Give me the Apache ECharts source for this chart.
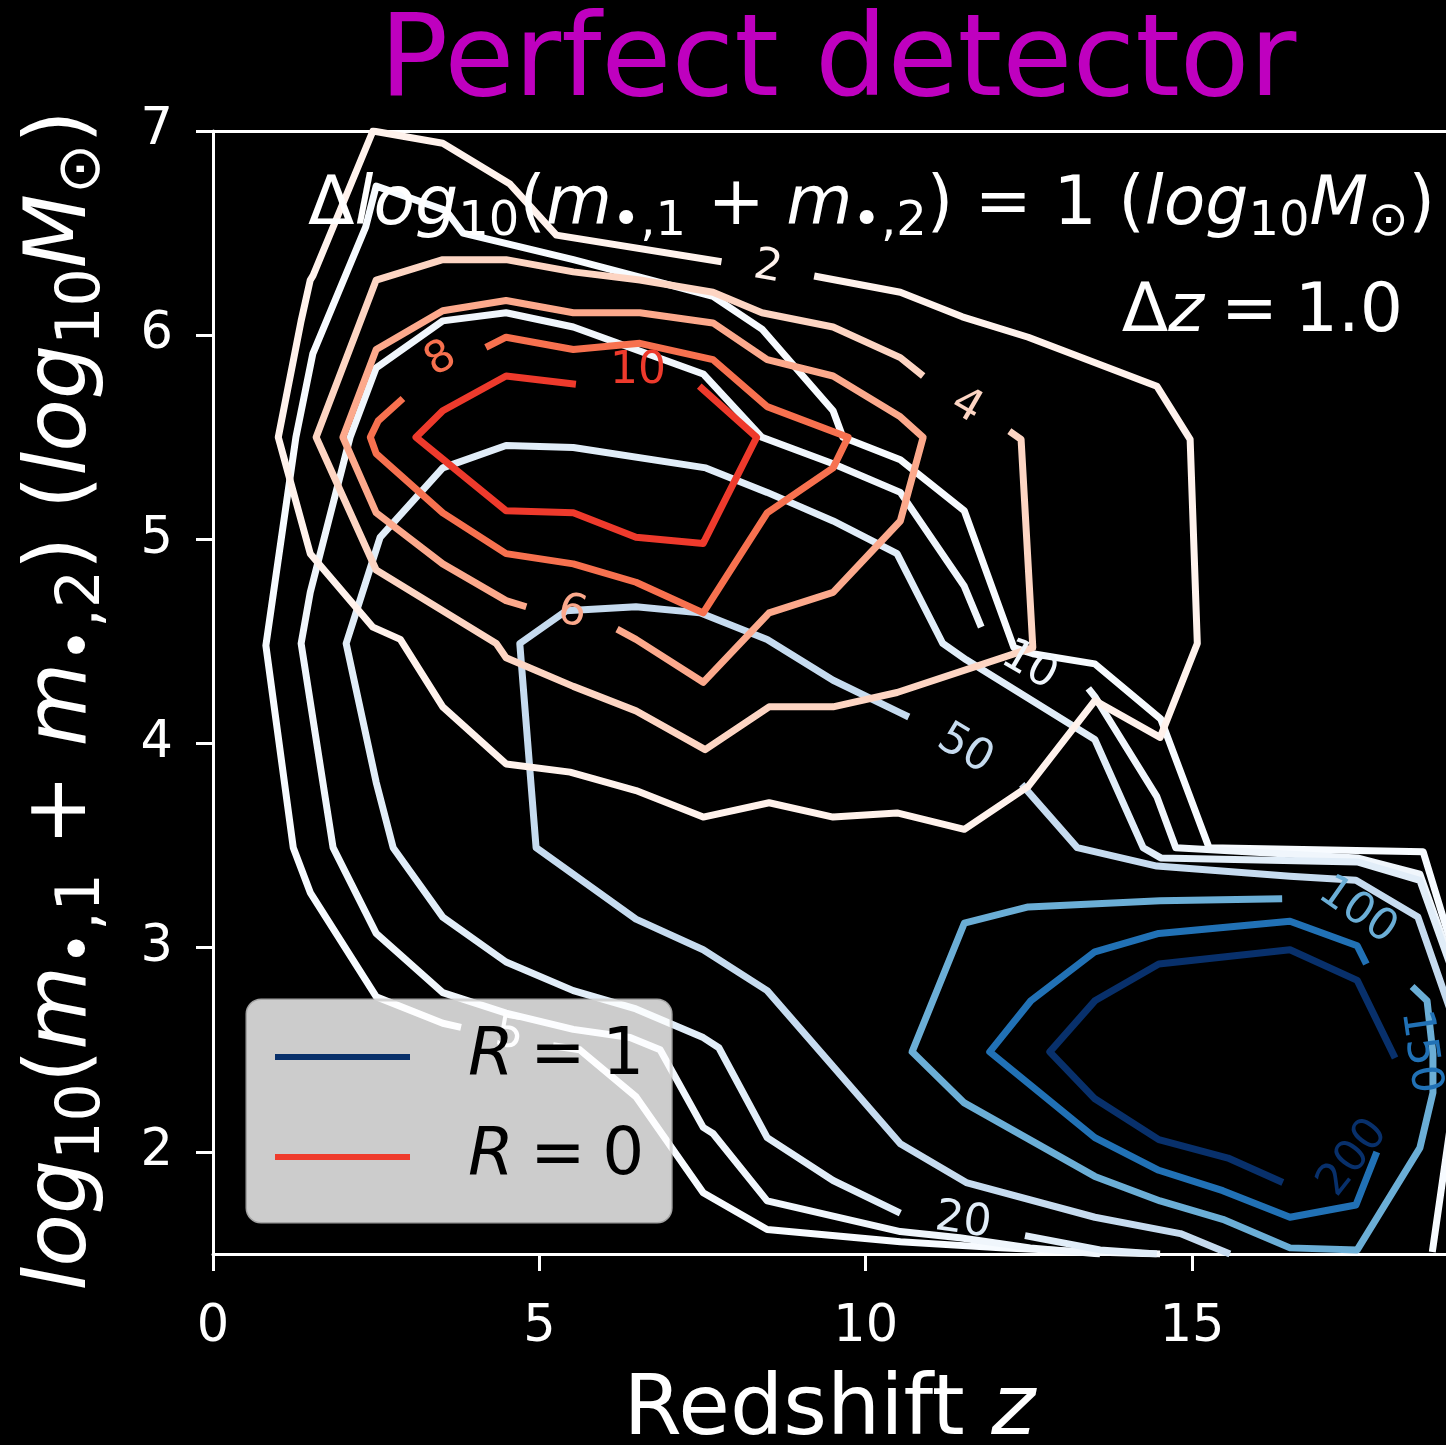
<!DOCTYPE html>
<html>
<head>
<meta charset="utf-8">
<script src="https://cdn.jsdelivr.net/npm/echarts@6.0.0/dist/echarts.min.js"></script>
<style>
html,body{margin:0;padding:0;background:#000;overflow:hidden;}
#chart{width:1446px;height:1445px;}
</style>
</head>
<body>
<div id="chart"></div>
<script>
// ---------------- axis ticks ----------------
const xTickValues = [0, 5, 10, 15];
const yTickValues = [2, 3, 4, 5, 6, 7];

// ---------------- contour levels ----------------
const levelsR0 = [2, 4, 6, 8, 10];
const levelsR1 = [5, 10, 20, 50, 100, 150, 200];

// ---------------- R = 0 contour paths: [redshift z, log10 mass] ----------------
const r0Level2 = [[[9.21,6.29],[10.53,6.21],[11.48,6.09],[12.49,5.99],[14.46,5.75],[14.97,5.49],[15.08,4.49],[14.51,4.03],[13.51,4.21],[12.49,3.79],[11.51,3.58],[10.48,3.66],[9.50,3.64],[8.52,3.71],[7.51,3.64],[6.48,3.77],[5.47,3.86],[4.49,3.90],[3.52,4.18],[2.87,4.51],[2.45,4.57],[1.49,4.93],[1.00,5.50],[1.35,6.07],[1.49,6.27],[1.53,6.29],[2.45,7.00],[3.52,6.94],[4.55,6.74],[5.26,6.49],[7.79,6.36]]];
const r0Level4 = [[[12.20,5.53],[12.38,5.49],[12.56,4.47],[10.48,4.25],[9.50,4.18],[8.52,4.18],[7.54,3.97],[6.48,4.16],[5.52,4.28],[4.49,4.42],[4.34,4.49],[2.50,4.85],[1.58,5.50],[2.50,6.27],[3.52,6.37],[4.49,6.37],[5.52,6.31],[6.54,6.27],[7.66,6.21],[8.41,6.11],[9.50,6.04],[10.53,5.89],[10.88,5.80]]];
const r0Level6 = [[[4.80,4.67],[4.49,4.70],[3.52,4.88],[2.50,5.13],[1.99,5.50],[2.50,5.93],[3.52,6.12],[4.49,6.17],[5.52,6.11],[6.54,6.11],[7.66,6.06],[8.49,5.88],[9.50,5.80],[10.53,5.60],[10.88,5.50],[10.53,5.09],[9.50,4.74],[8.52,4.64],[7.51,4.30],[6.48,4.51],[6.19,4.56]]];
const r0Level8 = [[[4.18,5.94],[4.49,5.99],[5.52,5.93],[6.54,5.96],[7.66,5.88],[8.49,5.65],[9.73,5.50],[9.50,5.35],[8.49,5.13],[7.51,4.64],[6.48,4.79],[5.52,4.88],[4.49,4.93],[3.52,5.13],[2.50,5.42],[2.41,5.50],[2.53,5.58],[2.91,5.69]]];
const r0Level10 = [[[7.45,5.75],[8.33,5.50],[7.51,4.98],[6.48,5.01],[5.52,5.13],[4.49,5.14],[3.11,5.50],[3.52,5.63],[4.49,5.80],[5.56,5.76]]];

// ---------------- R = 1 contour paths ----------------
const r1Level5 = [
  [[14.51,1.50],[13.48,1.51],[12.06,1.53],[10.53,1.56],[8.49,1.62],[7.51,1.80],[6.48,2.27],[5.62,2.50],[5.21,2.52]],
  [[3.80,2.61],[3.52,2.63],[2.50,2.76],[1.49,3.27],[1.23,3.49],[0.81,4.48],[1.27,5.50],[1.53,5.91],[2.34,6.53],[2.50,6.73],[3.57,6.61],[3.83,6.50],[5.52,6.37],[7.66,6.19],[8.41,6.03],[9.50,5.63],[9.65,5.50],[10.53,5.39],[11.51,5.14],[12.27,4.47],[12.56,4.44],[13.51,4.39],[14.52,4.12],[15.26,3.49],[18.54,3.47],[18.95,3.04],[19.20,2.55],[18.95,2.11],[18.68,1.51]]
];
const r1Level10 = [
  [[13.59,1.50],[12.52,1.53],[11.44,1.58],[10.53,1.61],[8.49,1.76],[7.66,2.09],[7.51,2.12],[6.85,2.50],[6.39,2.56],[5.52,2.60],[4.49,2.68],[3.52,2.78],[2.50,3.07],[1.84,3.49],[1.35,4.49],[1.49,4.74],[2.10,5.50],[2.50,5.84],[3.52,6.07],[4.49,6.11],[5.52,6.04],[7.51,5.81],[8.41,5.50],[9.50,5.37],[10.53,5.23],[11.51,4.77],[11.77,4.57]],
  [[13.41,4.27],[13.51,4.23],[14.46,3.74],[14.75,3.49],[17.53,3.44],[18.49,3.36],[18.95,2.95]]
];
const r1Level20 = [
  [[14.46,1.50],[13.59,1.52],[12.44,1.59]],
  [[10.53,1.70],[9.50,1.86],[8.49,2.07],[7.75,2.51],[7.51,2.56],[6.48,2.70],[5.52,2.79],[4.49,2.93],[3.52,3.15],[2.76,3.49],[2.50,3.81],[2.04,4.49],[2.50,4.95],[2.56,5.01],[3.52,5.35],[4.49,5.46],[5.52,5.45],[7.55,5.35],[8.49,5.23],[9.50,5.09],[10.48,4.93],[11.18,4.49],[11.54,4.41],[13.51,4.02],[14.25,3.49],[14.52,3.44],[17.53,3.42],[18.49,3.33],[18.95,2.92]]
];
const r1Level50 = [
  [[15.58,1.50],[14.82,1.60],[13.51,1.68],[11.54,1.85],[10.53,2.04],[8.49,2.79],[7.51,2.99],[6.48,3.14],[4.95,3.49],[4.70,4.49],[5.41,4.65],[6.48,4.67],[7.46,4.64],[8.49,4.51],[9.50,4.31],[10.53,4.15],[10.66,4.13]],
  [[12.39,3.80],[13.24,3.49],[14.46,3.40],[16.50,3.35],[17.51,3.33],[18.46,3.15],[18.95,2.70]]
];
const r1Level100 = [[[18.37,2.81],[18.60,2.74],[18.69,2.48],[18.69,2.29],[18.49,2.02],[17.53,1.52],[16.50,1.53],[15.47,1.67],[14.51,1.76],[13.51,1.88],[11.51,2.24],[10.71,2.49],[11.51,3.12],[12.49,3.20],[14.51,3.23],[16.38,3.24]]];
const r1Level150 = [[[17.83,2.00],[17.51,1.74],[16.50,1.68],[15.47,1.81],[14.49,1.91],[13.51,2.07],[11.90,2.49],[12.53,2.74],[13.51,2.98],[14.49,3.07],[16.50,3.13],[17.53,3.01],[17.67,2.92]]];
const r1Level200 = [[[18.11,2.46],[17.53,2.84],[16.50,2.99],[14.49,2.92],[13.51,2.74],[12.82,2.49],[13.51,2.26],[14.49,2.06],[15.55,1.97],[16.39,1.85]]];

// ---------------- inline contour labels (level, position in data units) ----------------
const labelsR0 = [{level:2, at:[8.50,6.33]}, {level:4, at:[11.54,5.65]}, {level:6, at:[5.50,4.64]}, {level:8, at:[3.49,5.88]}, {level:10, at:[6.51,5.82]}];
const labelsR1 = [{level:5, at:[4.54,2.57]}, {level:10, at:[12.50,4.38]}, {level:20, at:[11.49,1.66]}, {level:50, at:[11.52,3.97]}, {level:100, at:[17.53,3.18]}, {level:150, at:[18.49,2.49]}, {level:200, at:[17.47,1.97]}];

// ---------------- styles ----------------
const FONT = "'DejaVu Sans', sans-serif";
const colorR0 = {2:'#fff2ec', 4:'#fdd5c3', 6:'#fca98c', 8:'#f7714f', 10:'#ee3a2c'};
const colorR1 = {5:'#f7fbff', 10:'#f0f6fc', 20:'#e1edf8', 50:'#c6dbef', 100:'#6baed6', 150:'#2171b5', 200:'#08306b'};
const angleR0 = {2:-10, 4:-30, 6:-15, 8:30, 10:0};
const angleR1 = {5:-10, 10:-30, 20:-8, 50:-31, 100:-35, 150:-82, 200:52};
const pathsR0 = {2:r0Level2, 4:r0Level4, 6:r0Level6, 8:r0Level8, 10:r0Level10};
const pathsR1 = {5:r1Level5, 10:r1Level10, 20:r1Level20, 50:r1Level50, 100:r1Level100, 150:r1Level150, 200:r1Level200};
const SP = '\u2005'; // math-style narrow space

function mathRich(B, color) {
  return {
    n: {fontFamily: FONT, fontSize: B, color: color, fill: color},
    i: {fontFamily: FONT, fontSize: B, fontStyle: 'italic', color: color, fill: color},
    s: {fontFamily: FONT, fontSize: Math.round(B * 0.7), color: color, fill: color, padding: [Math.round(B * 0.48), 0, 0, 0]},
    e: {fontFamily: FONT, fontSize: B, color: color, fill: color, padding: [0, 16, 0, 0]}
  };
}

const series = [];
function addContours(paths, color) {
  paths.forEach(seg => series.push({
    type: 'line', data: seg, symbol: 'none', showSymbol: false, silent: true,
    animation: false, clip: true, z: 2, legendHoverLink: false,
    lineStyle: {color: color, width: 7, join: 'round', cap: 'butt'}
  }));
}
levelsR1.forEach(l => addContours(pathsR1[l], colorR1[l]));
levelsR0.forEach(l => addContours(pathsR0[l], colorR0[l]));

function labelSeries(list, colors, angles) {
  return {
    type: 'scatter', silent: true, animation: false, symbolSize: 1, z: 3,
    itemStyle: {color: 'rgba(0,0,0,0)'},
    data: list.map(l => ({
      value: l.at,
      label: {show: true, position: 'inside', formatter: String(l.level), rotate: angles[l.level],
              color: colors[l.level], fontSize: 44, fontFamily: FONT,
              textBorderWidth: 0, textBorderColor: 'transparent', textShadowBlur: 0, opacity: 1}
    }))
  };
}
series.push(labelSeries(labelsR1, colorR1, angleR1));
series.push(labelSeries(labelsR0, colorR0, angleR0));

// legend entries
series.push({name: 'R = 1', type: 'line', data: [], itemStyle: {color: '#08306b'}, lineStyle: {color: '#08306b'}});
series.push({name: 'R = 0', type: 'line', data: [], itemStyle: {color: '#ef3b2c'}, lineStyle: {color: '#ef3b2c'}});

const yName = '{i|log}{s|10}{n|(}{i|m}{s|•,1}{n| + }{i|m}{s|•,2}{n|) (}{i|log}{s|10}{i|M}{s|⊙}{e|)}';
const annot1 = '{n|Δ}{i|log}{s|10}{n|(}{i|m}{s|•,1}{n| + }{i|m}{s|•,2}{n|) = 1 (}{i|log}{s|10}{i|M}{s|⊙}{n|)}';
const annot2 = '{n|Δ}{i|z}{n|' + SP + '=' + SP + '1.0}';

const chart = echarts.init(document.getElementById('chart'), null, {renderer: 'canvas', width: 1446, height: 1445});
chart.setOption({
  backgroundColor: '#000',
  animation: false,
  title: {
    text: 'Perfect detector', left: 838, top: 8, textAlign: 'center', padding: 0,
    textStyle: {color: '#bf00bf', fontSize: 114, fontFamily: FONT, fontWeight: 'normal'}
  },
  grid: {left: 213, width: 1233, top: 131, height: 1123, containLabel: false, outerBoundsMode: 'none'},
  xAxis: [{
    type: 'value', min: 0, max: 18.89, position: 'bottom',
    name: '{n|Redshift }{i|z}', nameLocation: 'middle', nameGap: 116,
    nameTextStyle: {rich: mathRich(84, '#fff')},
    axisLine: {show: true, onZero: false, lineStyle: {color: '#fff', width: 3}},
    axisTick: {show: true, inside: false, length: 17, lineStyle: {color: '#fff', width: 3}, customValues: xTickValues},
    axisLabel: {show: true, color: '#fff', fontSize: 51, fontFamily: FONT, margin: 48, customValues: xTickValues},
    splitLine: {show: false}
  }, {
    type: 'value', min: 0, max: 18.89, position: 'top',
    axisLine: {show: true, onZero: false, lineStyle: {color: '#fff', width: 3}},
    axisTick: {show: false}, axisLabel: {show: false}, splitLine: {show: false}
  }],
  yAxis: {
    type: 'value', min: 1.5, max: 7, position: 'left',
    name: yName, nameLocation: 'middle', nameRotate: 90, nameGap: 100,
    nameTextStyle: {rich: mathRich(86, '#fff')},
    axisLine: {show: true, onZero: false, lineStyle: {color: '#fff', width: 3}},
    axisTick: {show: true, inside: false, length: 17, lineStyle: {color: '#fff', width: 3}, customValues: yTickValues},
    axisLabel: {show: true, color: '#fff', fontSize: 51, fontFamily: FONT, margin: 40, customValues: yTickValues},
    splitLine: {show: false}
  },
  legend: {
    data: ['R = 1', 'R = 0'], orient: 'vertical', left: 247, top: 1000,
    padding: [24, 27, 32, 28], itemGap: 34, itemWidth: 135, itemHeight: 6, icon: 'rect',
    backgroundColor: 'rgba(255,255,255,0.8)', borderColor: 'rgba(204,204,204,0.8)', borderWidth: 3, borderRadius: 14,
    selectedMode: false,
    formatter: n => n === 'R = 1' ? '{i|R}{n|' + SP + '=' + SP + '1}' : '{i|R}{n|' + SP + '=' + SP + '0}',
    textStyle: {
      color: '#000', fontSize: 66, fontFamily: FONT,
      rich: {
        i: {fontSize: 66, fontStyle: 'italic', fontFamily: FONT, color: '#000', padding: [0, 0, 0, 53]},
        n: {fontSize: 66, fontFamily: FONT, color: '#000'}
      }
    }
  },
  graphic: [
    {type: 'text', x: 1435, y: 206, z: 10, silent: true,
     style: {text: annot1, rich: mathRich(68, '#fff'), fill: '#fff', align: 'right', verticalAlign: 'middle', textAlign: 'right', textVerticalAlign: 'middle'}},
    {type: 'text', x: 1403, y: 313, z: 10, silent: true,
     style: {text: annot2, rich: mathRich(68, '#fff'), fill: '#fff', align: 'right', verticalAlign: 'middle', textAlign: 'right', textVerticalAlign: 'middle'}}
  ],
  series: series
});
</script>
</body>
</html>
